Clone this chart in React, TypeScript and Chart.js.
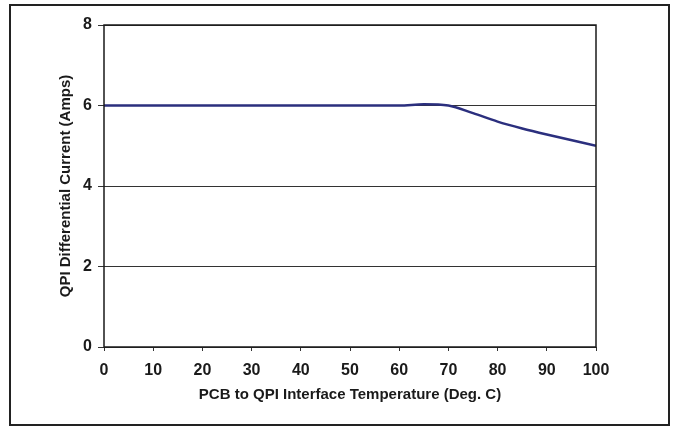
import React, { useEffect, useRef } from "react";
import { Chart, registerables } from "chart.js";

Chart.register(...registerables);

const temperatures = [0, 10, 20, 30, 40, 50, 60, 65, 70, 75, 80, 85, 90, 100];
const currents = [6.0, 6.0, 6.0, 6.0, 6.0, 6.0, 6.0, 6.03, 6.0, 5.81, 5.6, 5.43, 5.28, 5.0];
const xTicks = [0, 10, 20, 30, 40, 50, 60, 70, 80, 90, 100];
const yTicks = [0, 2, 4, 6, 8];
const xTitle = "PCB to QPI Interface Temperature (Deg. C)";
const yTitle = "QPI Differential Current (Amps)";

const frame = {
  id: "frame",
  afterDatasetsDraw(chart: any) {
    const { ctx, chartArea } = chart;
    ctx.save();
    ctx.strokeStyle = "#1a1a1a";
    ctx.lineWidth = 1.5;
    ctx.strokeRect(chartArea.left, chartArea.top, chartArea.right - chartArea.left, chartArea.bottom - chartArea.top);
    ctx.restore();
  },
};

export default function App() {
  const ref = useRef<HTMLCanvasElement>(null);
  useEffect(() => {
    if (!ref.current) return;
    const font = "'Liberation Sans', Arial, sans-serif";
    const chart = new Chart(ref.current, {
      type: "line",
      data: {
        datasets: [
          {
            data: temperatures.map((t, i) => ({ x: t, y: currents[i] })),
            borderColor: "#2b2f7e",
            borderWidth: 2.5,
            pointRadius: 0,
            cubicInterpolationMode: "monotone",
            fill: false,
          },
        ],
      },
      options: {
        animation: false,
        responsive: false,
        maintainAspectRatio: false,
        layout: { padding: { left: 0, top: 25, right: 79, bottom: 0 } },
        plugins: { legend: { display: false }, tooltip: { enabled: false } },
        scales: {
          x: {
            type: "linear",
            min: 0,
            max: 100,
            afterFit: (s: any) => { s.height = 80; },
            afterBuildTicks: (s: any) => { s.ticks = xTicks.map((v) => ({ value: v })); },
            border: { display: false },
            grid: { drawOnChartArea: false, drawTicks: true, tickLength: 4, color: "#333", lineWidth: 1 },
            ticks: { color: "#1a1a1a", padding: 10, maxRotation: 0, font: { family: font, size: 16, weight: "bold" } },
            title: { display: true, text: xTitle, color: "#1a1a1a", padding: { top: 0, bottom: 23 }, font: { family: font, size: 15, weight: "bold" } },
          },
          y: {
            min: 0,
            max: 8,
            afterFit: (s: any) => { s.width = 104; },
            afterBuildTicks: (s: any) => { s.ticks = yTicks.map((v) => ({ value: v })); },
            border: { display: false },
            grid: { drawTicks: true, tickLength: 6, color: "#333", lineWidth: 1 },
            ticks: { color: "#1a1a1a", padding: 6, font: { family: font, size: 16, weight: "bold" } },
            title: { display: true, text: yTitle, color: "#1a1a1a", padding: { top: 57, bottom: 0 }, font: { family: font, size: 15, weight: "bold" } },
          },
        },
      },
      plugins: [frame],
    });
    return () => chart.destroy();
  }, []);
  return (
    <div style={{ position: "absolute", left: 0, top: 0, width: 675, height: 427, background: "#fff" }}>
      <div
        style={{
          position: "absolute",
          left: 9,
          top: 4,
          width: 661,
          height: 422,
          boxSizing: "border-box",
          border: "2px solid #222",
        }}
      />
      <canvas ref={ref} width={675} height={427} style={{ position: "absolute", left: 0, top: 0 }} />
    </div>
  );
}
